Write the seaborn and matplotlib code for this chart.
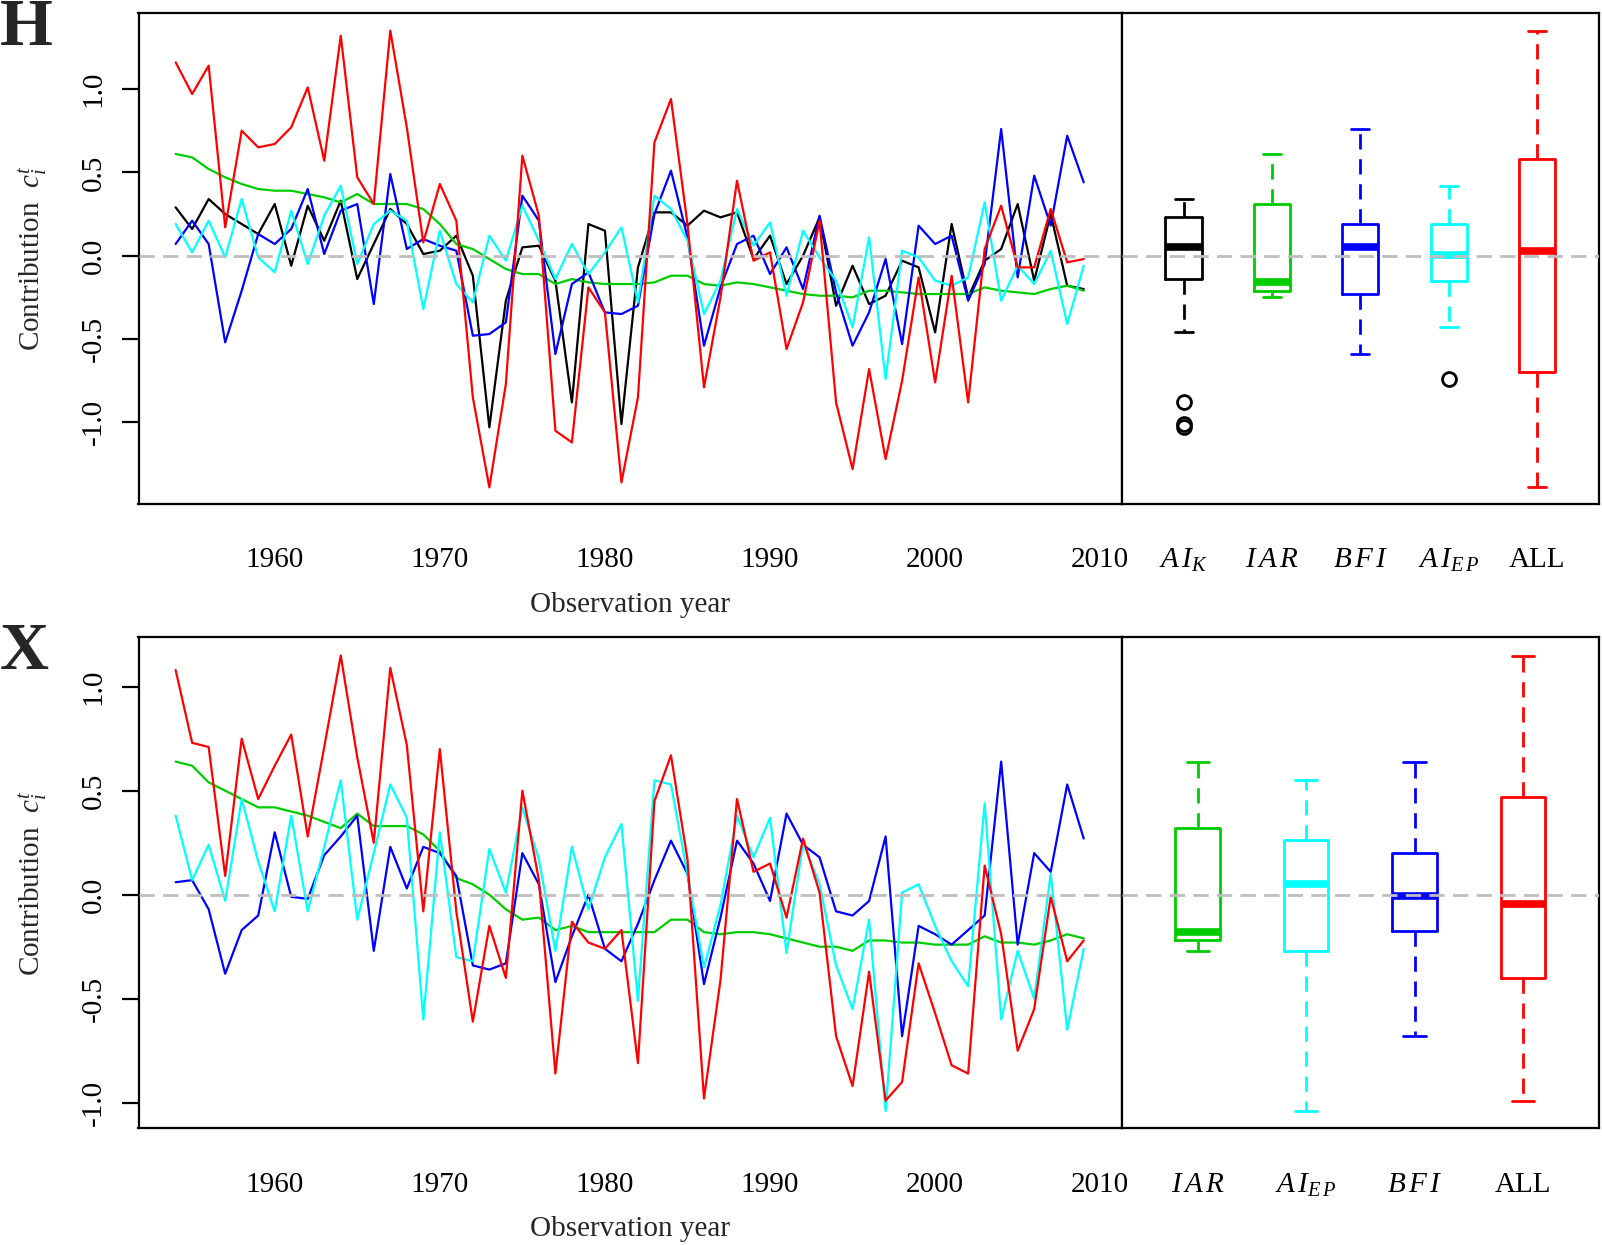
import matplotlib
matplotlib.use("Agg")
import matplotlib.pyplot as plt
import seaborn as sns
import pandas as pd

# observation years shared by both panels
years = list(range(1954, 2010))

# ---- panel H: contributions per year ----
h_aik = [0.29, 0.16, 0.34, 0.25, 0.19, 0.13, 0.31, -0.06, 0.30, 0.09,
         0.33, -0.14, 0.07, 0.28, 0.19, 0.01, 0.03, 0.12, -0.12, -1.03,
         -0.27, 0.05, 0.06, -0.15, -0.88, 0.19, 0.15, -1.01, -0.07, 0.26,
         0.26, 0.18, 0.27, 0.23, 0.26, -0.02, 0.12, -0.17, 0.00, 0.23,
         -0.30, -0.06, -0.29, -0.24, -0.03, -0.07, -0.46, 0.19, -0.25, -0.03,
         0.04, 0.31, -0.15, 0.25, -0.18, -0.20]
h_iar = [0.61, 0.59, 0.52, 0.47, 0.43, 0.40, 0.39, 0.39, 0.37, 0.35,
         0.32, 0.37, 0.31, 0.31, 0.31, 0.28, 0.19, 0.07, 0.04, -0.02,
         -0.08, -0.11, -0.11, -0.17, -0.14, -0.16, -0.17, -0.17, -0.17, -0.16,
         -0.12, -0.12, -0.17, -0.18, -0.16, -0.17, -0.19, -0.21, -0.23, -0.24,
         -0.24, -0.25, -0.21, -0.21, -0.22, -0.23, -0.23, -0.23, -0.23, -0.19,
         -0.21, -0.22, -0.23, -0.20, -0.18, -0.21]
h_bfi = [0.07, 0.21, 0.07, -0.52, -0.21, 0.13, 0.07, 0.16, 0.40, 0.01,
         0.27, 0.31, -0.29, 0.49, 0.04, 0.10, 0.06, 0.03, -0.48, -0.47,
         -0.40, 0.36, 0.21, -0.59, -0.17, -0.10, -0.34, -0.35, -0.30, 0.25,
         0.51, 0.11, -0.54, -0.19, 0.07, 0.12, -0.11, 0.05, -0.20, 0.24,
         -0.22, -0.54, -0.34, -0.02, -0.53, 0.18, 0.07, 0.12, -0.27, -0.05,
         0.76, -0.13, 0.48, 0.18, 0.72, 0.44]
h_aiep = [0.19, 0.02, 0.21, -0.01, 0.34, -0.01, -0.10, 0.27, -0.05, 0.24,
          0.42, -0.05, 0.19, 0.27, 0.21, -0.32, 0.15, -0.17, -0.28, 0.12,
          -0.03, 0.30, 0.09, -0.14, 0.07, -0.11, 0.02, 0.17, -0.28, 0.36,
          0.28, 0.09, -0.35, -0.15, 0.28, 0.06, 0.20, -0.24, 0.15, -0.01,
          -0.15, -0.43, 0.11, -0.74, 0.03, -0.01, -0.15, -0.18, -0.13, 0.32,
          -0.27, -0.06, -0.17, 0.03, -0.41, -0.06]
h_all = [1.16, 0.97, 1.14, 0.17, 0.75, 0.65, 0.67, 0.77, 1.01, 0.57,
         1.32, 0.47, 0.31, 1.35, 0.77, 0.08, 0.43, 0.21, -0.85, -1.39,
         -0.77, 0.60, 0.24, -1.05, -1.12, -0.19, -0.34, -1.36, -0.85, 0.68,
         0.94, 0.19, -0.79, -0.25, 0.45, -0.03, 0.02, -0.56, -0.28, 0.21,
         -0.88, -1.28, -0.68, -1.22, -0.75, -0.13, -0.76, -0.12, -0.88, 0.04,
         0.30, -0.07, -0.07, 0.28, -0.04, -0.02]

# ---- panel X ----
x_iar = [0.64, 0.62, 0.54, 0.50, 0.46, 0.42, 0.42, 0.40, 0.38, 0.35,
         0.32, 0.39, 0.33, 0.33, 0.33, 0.29, 0.21, 0.08, 0.05, 0.00,
         -0.07, -0.12, -0.11, -0.17, -0.15, -0.18, -0.18, -0.18, -0.18, -0.18,
         -0.12, -0.12, -0.18, -0.19, -0.18, -0.18, -0.19, -0.21, -0.23, -0.25,
         -0.25, -0.27, -0.22, -0.22, -0.23, -0.23, -0.24, -0.24, -0.24, -0.20,
         -0.23, -0.23, -0.24, -0.22, -0.19, -0.21]
x_aiep = [0.38, 0.07, 0.24, -0.03, 0.46, 0.16, -0.08, 0.38, -0.08, 0.23,
          0.55, -0.12, 0.20, 0.53, 0.37, -0.60, 0.30, -0.30, -0.32, 0.22,
          0.01, 0.42, 0.17, -0.27, 0.23, -0.07, 0.18, 0.34, -0.51, 0.55,
          0.53, 0.10, -0.35, -0.05, 0.38, 0.18, 0.37, -0.28, 0.25, 0.05,
          -0.34, -0.55, -0.12, -1.04, 0.01, 0.05, -0.15, -0.32, -0.44, 0.44,
          -0.60, -0.27, -0.50, 0.10, -0.65, -0.26]
x_bfi = [0.06, 0.07, -0.07, -0.38, -0.17, -0.10, 0.30, -0.01, -0.02, 0.19,
         0.28, 0.38, -0.27, 0.23, 0.03, 0.23, 0.20, 0.09, -0.34, -0.36,
         -0.33, 0.20, 0.05, -0.42, -0.20, 0.00, -0.26, -0.32, -0.14, 0.07,
         0.26, 0.10, -0.43, -0.11, 0.26, 0.15, -0.03, 0.39, 0.24, 0.18,
         -0.08, -0.10, -0.03, 0.28, -0.68, -0.15, -0.19, -0.24, -0.17, -0.10,
         0.64, -0.24, 0.20, 0.11, 0.53, 0.27]
x_all = [1.08, 0.73, 0.71, 0.09, 0.75, 0.46, 0.62, 0.77, 0.28, 0.71,
         1.15, 0.66, 0.25, 1.09, 0.72, -0.08, 0.70, -0.08, -0.61, -0.15,
         -0.40, 0.50, 0.07, -0.86, -0.13, -0.23, -0.26, -0.17, -0.81, 0.45,
         0.67, 0.17, -0.98, -0.41, 0.46, 0.11, 0.15, -0.11, 0.27, 0.01,
         -0.68, -0.92, -0.37, -0.99, -0.90, -0.33, -0.57, -0.82, -0.86, 0.14,
         -0.19, -0.75, -0.55, -0.01, -0.32, -0.22]

colors = {'AI_K': '#000000', 'IAR': '#00CD00', 'BFI': '#0000FF',
          'AI_EP': '#00FFFF', 'ALL': '#FF0000'}
tick_names = {'AI_K': r'$A\,I_K$', 'IAR': r'$I\,A\,R$', 'BFI': r'$B\,F\,I$',
              'AI_EP': r'$A\,I_{E\,P}$', 'ALL': 'ALL'}

sns.set_theme(style="white")
plt.rcParams['font.family'] = ['Liberation Serif', 'DejaVu Serif']
plt.rcParams['mathtext.fontset'] = 'custom'
plt.rcParams['mathtext.rm'] = 'Liberation Serif'
plt.rcParams['mathtext.it'] = 'Liberation Serif:italic'
plt.rcParams['lines.scale_dashes'] = False

FS = 21
W, H = 1602, 1245
fig = plt.figure(figsize=(W / 100, H / 100), dpi=100)


def px_rect(x0, x1, y0, y1):
    return [x0 / W, 1 - y1 / H, (x1 - x0) / W, (y1 - y0) / H]


def panel(series, box_order, top, bottom, ylim, letter):
    df = pd.concat([pd.DataFrame({'year': years, 'value': v, 'var': k})
                    for k, v in series.items()], ignore_index=True)
    ax = fig.add_axes(px_rect(138.5, 1121.7, top, bottom))
    axb = fig.add_axes(px_rect(1121.7, 1599, top, bottom), sharey=ax)

    sns.lineplot(data=df, x='year', y='value', hue='var', hue_order=list(series.keys()),
                 palette=colors, estimator=None, linewidth=1.6, legend=False, ax=ax)
    ax.axhline(0, color='#BEBEBE', lw=2, ls=(0, (11, 6)), zorder=10)
    ax.set_xlim(1951.75, 2011.3)
    ax.set_ylim(*ylim)
    ax.set_xticks([1960, 1970, 1980, 1990, 2000, 2010])
    ax.set_yticks([-1.0, -0.5, 0.0, 0.5, 1.0])
    ax.set_yticklabels(['-1.0', '-0.5', '0.0', '0.5', '1.0'])
    ax.set_xlabel('')
    ax.set_ylabel('')

    sns.boxplot(data=df, x='var', y='value', hue='var', order=box_order, hue_order=box_order,
                palette=colors, fill=False, width=0.41, linewidth=2, whis=1.5,
                legend=False, ax=axb,
                whiskerprops=dict(linestyle=(0, (11, 7))),
                medianprops=dict(linewidth=5.5, solid_capstyle='butt'),
                flierprops=dict(marker='o', markerfacecolor='none',
                                markeredgecolor='black', markersize=10, markeredgewidth=2))
    for c in axb.containers:
        for f in getattr(c, 'fliers', []):
            f.set(marker='o', markerfacecolor='none', markeredgecolor='black',
                  markersize=10, markeredgewidth=2)
        for w_ in getattr(c, 'whiskers', []):
            w_.set_linestyle((0, (11, 7)))
    axb.axhline(0, color='#BEBEBE', lw=2, ls=(0, (11, 6)), zorder=10)
    n = len(box_order)
    axb.set_xlim(-0.70, n - 1 + 0.70)
    axb.set_xticks(range(n))
    axb.set_xticklabels([tick_names[k] for k in box_order])
    axb.set_xlabel('')
    axb.set_ylabel('')
    axb.tick_params(axis='y', left=False, labelleft=False)

    for a in (ax, axb):
        for s in a.spines.values():
            s.set_visible(True)
            s.set_color('black')
            s.set_linewidth(1.6)
        a.tick_params(axis='both', direction='out', length=12, width=1.6,
                      color='black', labelsize=FS, labelcolor='black', pad=19.5)
    ax.tick_params(axis='y', left=True, pad=11)
    for t in ax.get_yticklabels():
        t.set_rotation(90)
        t.set_va('center')

    mid = (top + bottom) / 2
    fig.text(33 / W, 1 - mid / H, 'Contribution  $c_i^t$', rotation=90,
             ha='center', va='center', fontsize=FS)
    fig.text(630 / W, 1 - (bottom + 101) / H, 'Observation year',
             ha='center', va='center', fontsize=FS)
    fig.text(0.0, 1 - (top + 32) / H, letter, fontsize=49, fontweight='bold',
             ha='left', va='baseline')


panel({'AI_K': h_aik, 'IAR': h_iar, 'BFI': h_bfi, 'AI_EP': h_aiep, 'ALL': h_all},
      ['AI_K', 'IAR', 'BFI', 'AI_EP', 'ALL'], 12.7, 503.5, (-1.4865, 1.4577), 'H')
panel({'IAR': x_iar, 'BFI': x_bfi, 'AI_EP': x_aiep, 'ALL': x_all},
      ['IAR', 'AI_EP', 'BFI', 'ALL'], 637.3, 1128.3, (-1.123, 1.2375), 'X')

fig.savefig('out.png', dpi=100)
